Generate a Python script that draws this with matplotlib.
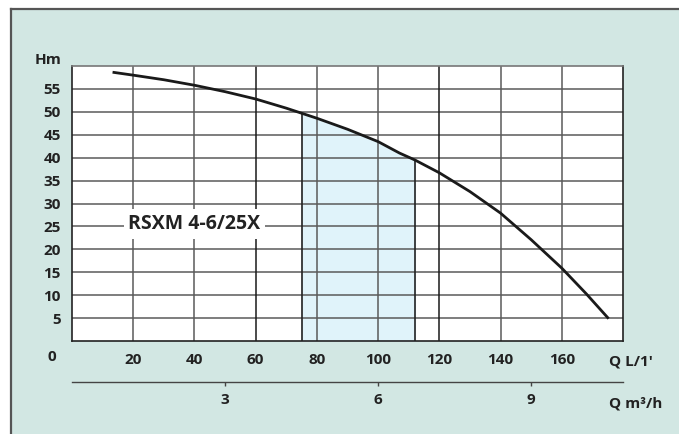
import matplotlib
matplotlib.use("Agg")
import matplotlib.pyplot as plt
from matplotlib.patches import Rectangle
from matplotlib.lines import Line2D

plt.rcParams['font.family'] = ['Open Sans', 'DejaVu Sans']

# pump curve: flow in L/min, head in m
q_lmin = [13.7, 20, 30, 40, 50, 60, 70, 75, 80, 90, 100, 107, 112, 120, 130, 140, 150, 160, 168, 175]
head_m = [58.6, 58.0, 57.0, 55.8, 54.4, 52.8, 50.8, 49.7, 48.6, 46.2, 43.5, 41.0, 39.5, 36.7, 32.6, 27.9, 22.1, 15.9, 10.3, 5.1]

model_label = "RSXM 4-6/25X"
duty_range = (75, 112)          # shaded working range, L/min
y_ticks = list(range(5, 60, 5))
x_ticks = list(range(20, 180, 20))
m3h_ticks = [3, 6, 9]

teal = "#d2e7e3"
grid_c = "#5a5a5a"

fig = plt.figure(figsize=(6.79, 4.34), dpi=100)
fig.patch.set_facecolor("white")

# teal panel with dark border on top and left
fig.patches.append(Rectangle((11 / 679, 0), 1, 1 - 9 / 434, transform=fig.transFigure,
                             facecolor=teal, edgecolor="none", zorder=-5))
fig.lines.append(Line2D([11 / 679, 1], [1 - 9 / 434, 1 - 9 / 434], transform=fig.transFigure,
                        color="#555555", lw=1.6))
fig.lines.append(Line2D([11 / 679, 11 / 679], [0, 1 - 9 / 434], transform=fig.transFigure,
                        color="#555555", lw=1.6))

ax = fig.add_axes([72 / 679, 1 - 341 / 434, 551 / 679, 275 / 434])
ax.set_facecolor("white")
ax.set_xlim(0, 180)
ax.set_ylim(0, 60)

# grid
for y in y_ticks:
    ax.axhline(y, color=grid_c, lw=1.1, zorder=1)
for x in x_ticks:
    c = "#1a1a1a" if x in (60, 120) else grid_c
    ax.axvline(x, color=c, lw=1.1, zorder=1)

# shaded duty range under the curve
lo, hi = duty_range
sel = [i for i, q in enumerate(q_lmin) if lo <= q <= hi]
qs = [q_lmin[i] for i in sel]
hs = [head_m[i] for i in sel]
ax.fill_between(qs, 0, hs, color="#e0f3fa", zorder=0.5)
ax.vlines([qs[0], qs[-1]], 0, [hs[0], hs[-1]], color="#222222", lw=1.2, zorder=2)

ax.plot(q_lmin, head_m, color="#1a1a1a", lw=2.0, zorder=3, solid_joinstyle="round")

ax.text(40, 25.6, model_label, ha="center", va="center", fontsize=14, fontweight="bold",
        color="#222222", zorder=4,
        bbox=dict(boxstyle="square,pad=0.25", facecolor="white", edgecolor="none"))

for side in ("left", "bottom", "right"):
    ax.spines[side].set_color("#222222")
    ax.spines[side].set_linewidth(1.2)
ax.spines["top"].set_color("#777777")
ax.spines["top"].set_linewidth(1.2)

ax.set_yticks(y_ticks)
ax.set_xticks(x_ticks)
ax.tick_params(axis="both", length=0, labelsize=11, labelcolor="#222222")
ax.tick_params(axis="y", pad=8)
ax.tick_params(axis="x", pad=9)
for lab in ax.get_xticklabels() + ax.get_yticklabels():
    lab.set_fontweight("bold")

ax.text(-0.044, 1.02, "Hm", transform=ax.transAxes, ha="center", va="center",
        fontsize=11, fontweight="bold", color="#222222")
ax.text(-0.036, -0.058, "0", transform=ax.transAxes, ha="center", va="center",
        fontsize=11, fontweight="bold", color="#222222")
ax.text(0.975, -0.075, "Q L/1'", transform=ax.transAxes, ha="left", va="center",
        fontsize=11, fontweight="bold", color="#222222")
ax.text(0.975, -0.2255, "Q m³/h", transform=ax.transAxes, ha="left", va="center",
        fontsize=11, fontweight="bold", color="#222222")

# secondary flow scale in m3/h
sec = ax.secondary_xaxis(-0.149, functions=(lambda q: q * 0.06, lambda m: m / 0.06))
sec.set_xticks(m3h_ticks)
sec.spines["bottom"].set_color("#444444")
sec.spines["bottom"].set_linewidth(1.0)
sec.tick_params(axis="x", length=3, width=1, color="#444444", pad=5, labelsize=11,
                labelcolor="#222222")
for lab in sec.get_xticklabels():
    lab.set_fontweight("bold")

fig.savefig("out.png", dpi=100, facecolor=fig.get_facecolor())
